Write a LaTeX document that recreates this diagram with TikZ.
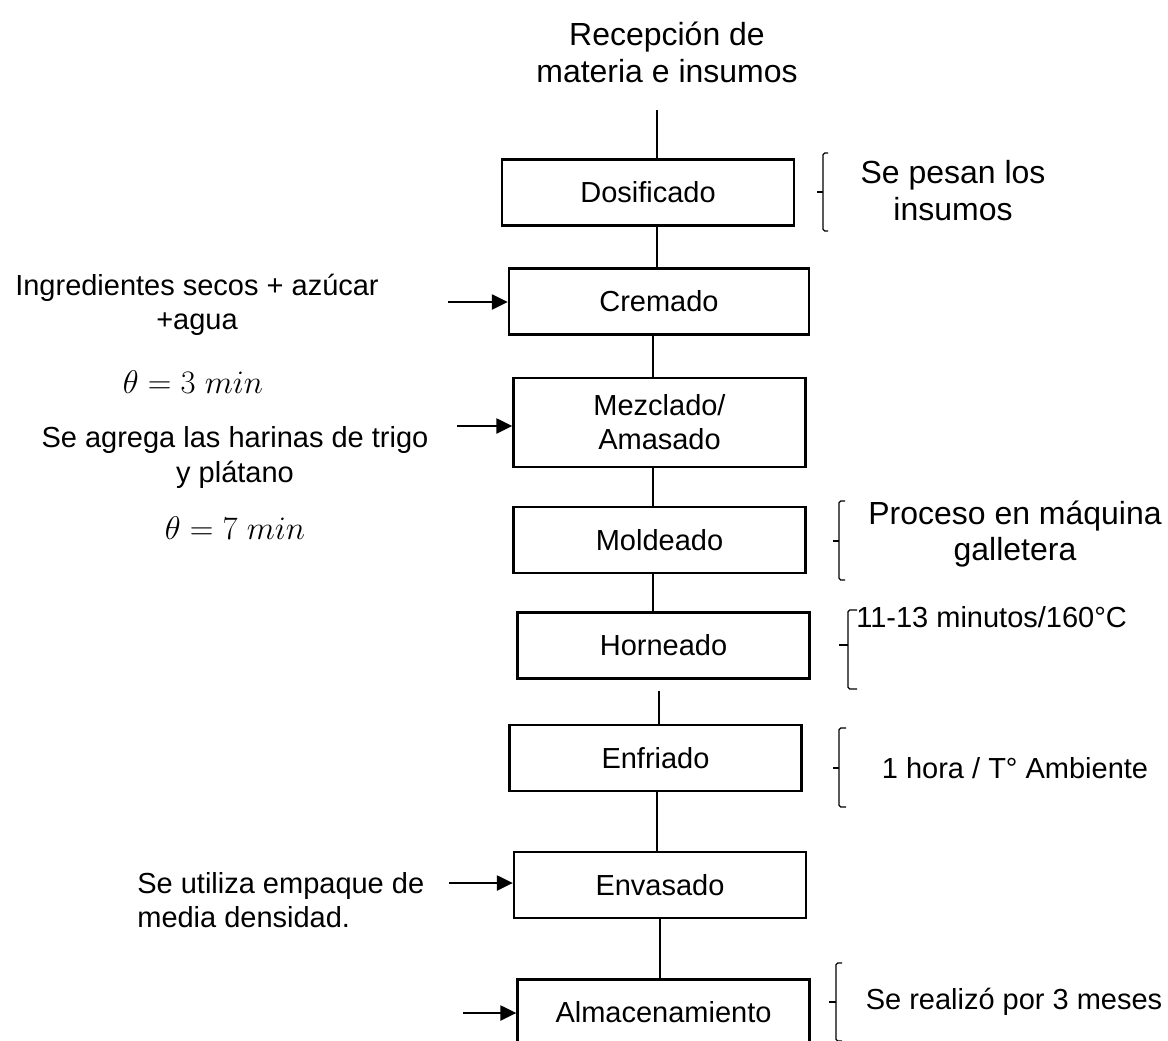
\documentclass[tikz,border=0pt]{standalone}
\usepackage{fontspec}
\setmainfont{Liberation Sans}
\usetikzlibrary{arrows.meta}

\begin{document}
\begin{tikzpicture}[x=0.02cm, y=-0.02cm,
        font=\fontsize{16.5}{19.5}\selectfont,
        stage/.style={draw, rectangle, line width=1.35pt, minimum width=5.84cm, minimum height=1.32cm, inner sep=2pt, align=center},
        note/.style={align=center, inner sep=0pt},
        bignote/.style={note, font=\fontsize{18.2}{21}\selectfont},
        link/.style={line width=1.2pt},
        feed/.style={line width=1.3pt, -{Triangle[length=0.32cm, width=0.3cm]}},
        brace/.style={line width=0.7pt, rounded corners=1pt}]
        % page frame
        \useasboundingbox (0,0) rectangle (1168,1040);

        % process stages
        \node[stage] (dos) at (648,192.5) {Dosificado};
        \node[stage, minimum width=6cm] (crem) at (659,301.5) {Cremado};
        \node[stage, minimum height=1.78cm] (mez) at (659.5,422.5) {Mezclado/\\Amasado};
        \node[stage] (mold) at (659.5,540) {Moldeado};
        \node[stage] (horn) at (663.5,645.5) {Horneado};
        \node[stage] (enfr) at (655.5,758) {Enfriado};
        \node[stage] (env) at (660,885) {Envasado};
        \node[stage] (alm) at (663.5,1012.5) {Almacenamiento};

        % texts
        \node[bignote] (recep) at (667,52) {Recepción de\\materia e insumos};
        \node[note] (ingr) at (197,304.5) {Ingredientes secos + azúcar\\+agua};
        \node[note, scale=1.08] (tcrem) at (193,382) {$\theta = 3\;min$};
        \node[note] (harin) at (235,457.5) {Se agrega las harinas de trigo\\y plátano};
        \node[note, scale=1.08] (tmez) at (235,528) {$\theta = 7\;min$};
        \node[note, align=left, anchor=west] (empaq) at (137,900) {Se utiliza empaque de\\media densidad.};
        \node[bignote] (pesan) at (953,191) {Se pesan los\\insumos};
        \node[bignote] (maq) at (1015,534) {Proceso en máquina\\galletera};
        \node[note, anchor=west] (temp) at (856,617) {11-13 minutos/160°C};
        \node[note] (amb) at (1015,768) {1 hora / T° Ambiente};
        \node[note] (meses) at (1014,1002) {Se realizó por 3 meses};

        % flow lines
        \coordinate (src) at (657,110);
        \draw[link] (src) -- (src |- dos.north);
        \foreach \a/\b/\lx in {dos/crem/657, crem/mez/653, mez/mold/653, mold/horn/653, enfr/env/657, env/alm/660} {
            \draw[link] (\lx,0 |- \a.south) -- (\lx,0 |- \b.north);
        }
        \draw[link, shorten <=0.22cm] (659,0 |- horn.south) -- (659,0 |- enfr.north);

        % inputs
        \coordinate (inCrem) at (448,302);
        \coordinate (inMez) at (457,426);
        \coordinate (inEnv) at (449,883);
        \coordinate (inAlm) at (463,1013);
        \foreach \c/\n in {inCrem/crem, inMez/mez, inEnv/env, inAlm/alm} {
            \draw[feed] (\c) -- (\c -| \n.west);
        }

        % braces
        \foreach \bx/\bt/\bb/\bm/\bs/\bk in {823/153/231/192/5/6, 839/501/580/541/6/6, 848/610/689/645/9/9, 839/728/807/768/7/6, 836/963/1041/1002/6/7} {
            \draw[brace] (\bx+\bs,\bt) -- (\bx,\bt) -- (\bx,\bb) -- (\bx+\bs,\bb);
            \draw[brace] (\bx,\bm) -- (\bx-\bk,\bm);
        }
    \end{tikzpicture}
\end{document}
